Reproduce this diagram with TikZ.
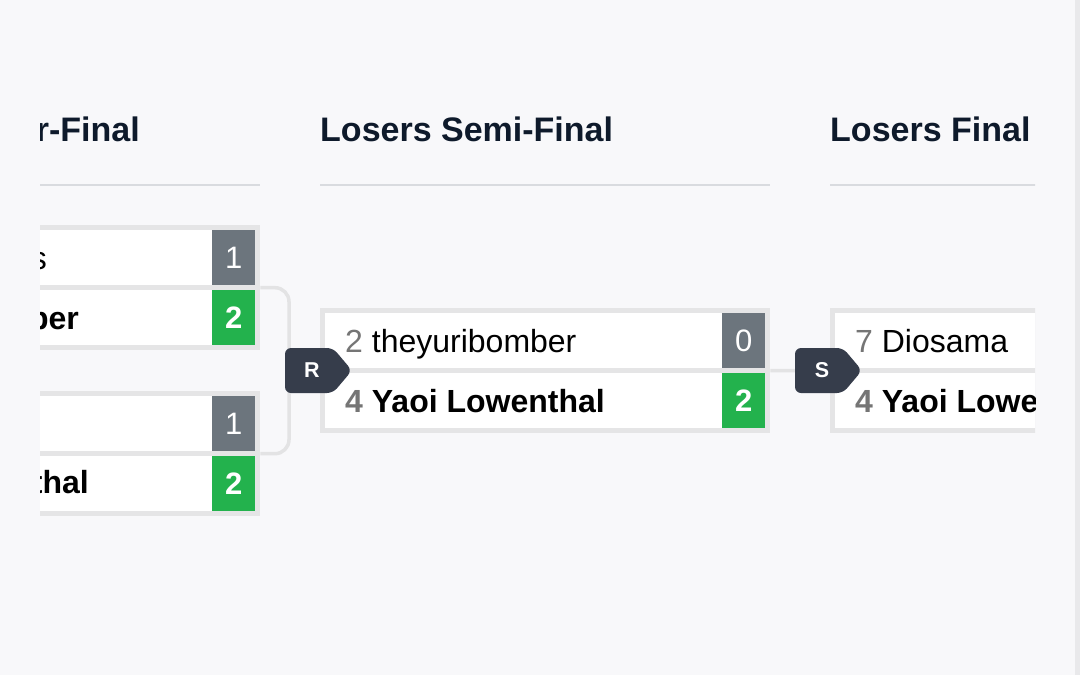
\documentclass[tikz,border=0pt]{standalone}
\usepackage{fontspec}
\setmainfont{Liberation Sans}
\usepackage{tikz}
\usetikzlibrary{positioning}

\definecolor{pagebg}{HTML}{F8F8FA}
\definecolor{scrollgray}{HTML}{E9E9EB}
\definecolor{headnavy}{HTML}{0E1A2B}
\definecolor{rulegray}{HTML}{D9DBDF}
\definecolor{framegray}{HTML}{E5E5E6}
\definecolor{linkgray}{HTML}{E3E3E4}
\definecolor{lossgray}{HTML}{6C757D}
\definecolor{wingreen}{HTML}{23B24D}
\definecolor{seedgray}{HTML}{757575}
\definecolor{badgeslate}{HTML}{363D4B}

\tikzset{
	matchframe/.style={fill=framegray, minimum height=125pt, inner sep=0pt, anchor=north west},
	rowbox/.style={fill=white, minimum height=55pt, inner sep=0pt, anchor=north west},
	scorebox/.style={minimum width=43pt, minimum height=55pt, inner sep=0pt, anchor=north west,
		text=white, font=\fontsize{31}{31}\selectfont},
	lossscore/.style={scorebox, fill=lossgray},
	winscore/.style={scorebox, fill=wingreen, font=\fontsize{31}{31}\selectfont\bfseries},
	player/.style={anchor=base west, inner sep=0pt, font=\fontsize{32}{32}\selectfont},
	playerwin/.style={player, font=\fontsize{32}{32}\selectfont\bfseries},
	heading/.style={anchor=base west, inner sep=0pt, text=headnavy, font=\fontsize{34}{34}\selectfont\bfseries},
	headrule/.style={draw=rulegray, line width=2pt},
	link/.style={draw=linkgray, line width=3.5pt},
	tagshape/.style={fill=badgeslate, rounded corners=6pt},
	tagtext/.style={text=white, inner sep=0pt, font=\fontsize{21.5}{21.5}\selectfont\bfseries}
}

\begin{document}
\begin{tikzpicture}[x=1pt, y=-1pt]
		
		% page and scroll bar
		\fill[pagebg] (0,0) rectangle (1080,675);
		\useasboundingbox (0,0) rectangle (1080,675);
		\fill[scrollgray] (1075,0) rectangle (1080,675);
		
		\begin{scope}
		\clip (40,0) rectangle (1035,675);
		
		% round headings
		\node[heading, anchor=base east] (qfhead) at (140,141) {r-Final};
		\node[heading] (sfhead) at (320,141) {Losers Semi-Final};
		\node[heading] (lfhead) at (830,141) {Losers Final};
		\draw[headrule] (0,185) -- (260,185);
		\draw[headrule] (320,185) -- (770,185);
		\draw[headrule] (830,185) -- (1080,185);
		
		% left column, two matches
		\node[matchframe, minimum width=260pt] (qf1) at (0,225) {};
		\node[rowbox, minimum width=212pt] (qf1-top) at (0,230) {};
		\node[rowbox, minimum width=212pt] (qf1-bot) at (0,290) {};
		\node[lossscore] (qf1-s1) at (212,230) {1};
		\node[winscore] (qf1-s2) at (212,290) {2};
		\node[player, anchor=base east] (qf1-p1) at (47,269) {s};
		\node[playerwin, anchor=base east] (qf1-p2) at (79,329) {ber};
		
		\node[matchframe, minimum width=260pt] (qf2) at (0,391) {};
		\node[rowbox, minimum width=212pt] (qf2-top) at (0,396) {};
		\node[rowbox, minimum width=212pt] (qf2-bot) at (0,456) {};
		\node[lossscore] (qf2-s1) at (212,396) {1};
		\node[winscore] (qf2-s2) at (212,456) {2};
		\node[playerwin, anchor=base east] (qf2-p2) at (89,493) {thal};
		
		% semi-final
		\node[matchframe, minimum width=450pt] (sf) at (320,308) {};
		\node[rowbox, minimum width=397pt] (sf-top) at (325,313) {};
		\node[rowbox, minimum width=397pt] (sf-bot) at (325,373) {};
		\node[lossscore] (sf-s1) at (722,313) {0};
		\node[winscore] (sf-s2) at (722,373) {2};
		\node[player] (sf-p1) at (345,352) {\textcolor{seedgray}{2} theyuribomber};
		\node[playerwin] (sf-p2) at (345,412) {\textcolor{seedgray}{4} Yaoi Lowenthal};
		
		% final (cut off at the right)
		\node[matchframe, minimum width=250pt] (lf) at (830,308) {};
		\node[rowbox, minimum width=245pt] (lf-top) at (835,313) {};
		\node[rowbox, minimum width=245pt] (lf-bot) at (835,373) {};
		\node[player] (lf-p1) at (855,352) {\textcolor{seedgray}{7} Diosama};
		\node[playerwin] (lf-p2) at (855,412) {\textcolor{seedgray}{4} Yaoi Lowenthal};
		
		% connectors
		\coordinate (qfjoin) at (289,370.5);
		\coordinate (sfout) at (796,370.5);
		\draw[link, rounded corners=14pt] (qf1.east) -| (qfjoin) |- (qf2.east);
		\draw[link] (sf.east) -- (sfout);
		
		% round tags R and S
		\fill[tagshape] (285,348) -- (333,348) -- (352,370.5) -- (333,393) -- (285,393) -- cycle;
		\node[tagtext] (rtag) at (312,370.5) {R};
		\fill[tagshape] (795,348) -- (843,348) -- (862,370.5) -- (843,393) -- (795,393) -- cycle;
		\node[tagtext] (stag) at (822,370.5) {S};
		
		\end{scope}
		
	\end{tikzpicture}
\end{document}
